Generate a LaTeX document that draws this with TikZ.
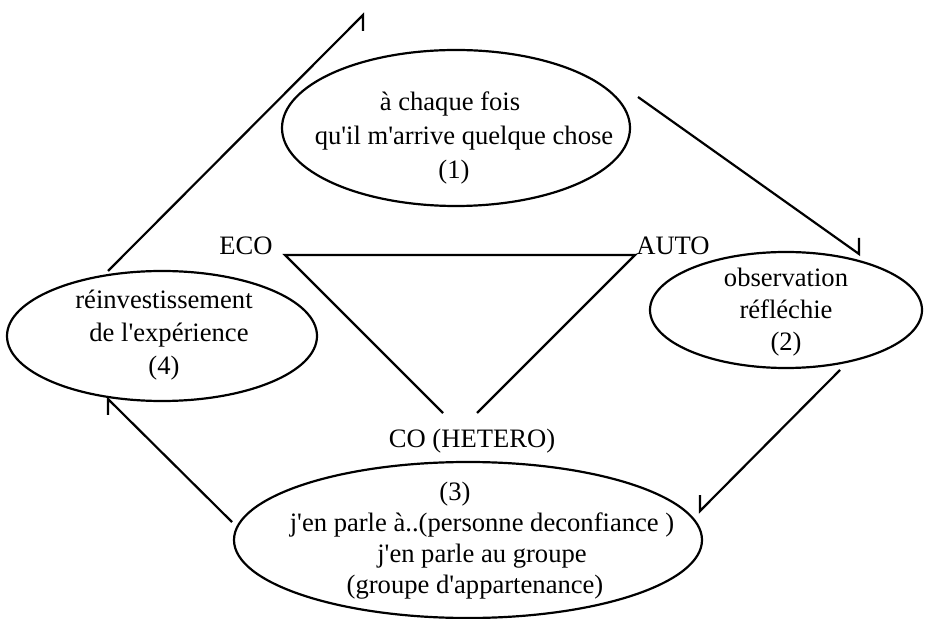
\documentclass[tikz,border=0pt]{standalone}
\usepackage{fontspec}
% plain family without TeX ligature mapping, so ' stays a straight apostrophe
\newfontfamily\docfont{Liberation Serif}
\usetikzlibrary{shapes.geometric}
\begin{document}
\begin{tikzpicture}[x=0.5pt,y=-0.5pt,
  line width=1.1pt, line join=miter,
  bubble/.style={draw, ellipse, inner sep=0pt},
  lbl/.style={font=\docfont\fontsize{13.3}{16.5}\selectfont, align=center, inner sep=0pt},
  flow/.style={line width=1.1pt}]
\useasboundingbox (0,0) rectangle (930,619);

% the four stages of the cycle
\node[bubble, minimum width=174pt, minimum height=78pt] (e1) at (456,128) {};
\node[bubble, minimum width=136pt, minimum height=58pt] (e2) at (786,310) {};
\node[bubble, minimum width=234pt, minimum height=78pt] (e3) at (468,540) {};
\node[bubble, minimum width=155pt, minimum height=65pt] (e4) at (162,336) {};

\node[lbl, font=\docfont\fontsize{13.3}{17}\selectfont] (t1) at (464,138)
  {à chaque fois\hspace*{14pt}\\qu'il m'arrive quelque chose\\(1)\hspace*{10pt}};
\node[lbl, font=\docfont\fontsize{13.3}{16}\selectfont] (t2) at (786,312)
  {observation\\réfléchie\\(2)};
\node[lbl, font=\docfont\fontsize{13.3}{15.5}\selectfont] (t3) at (482,541)
  {(3)\hspace*{27pt}\\j'en parle à..(personne deconfiance )\\j'en parle au groupe\hspace*{19pt}\\(groupe d'appartenance)\hspace*{7pt}};
\node[lbl] (t4) at (164,335)
  {réinvestissement\\\hspace*{5pt}de l'expérience\\(4)};

% triangle ECO / AUTO / CO
\node[lbl] (eco) at (246,246) {ECO};
\node[lbl] (auto) at (673,246) {AUTO};
\node[lbl] (co) at (472,441) {CO (HETERO)};
\coordinate (ve) at (285,255);
\coordinate (va) at (635,255);
\coordinate (bl) at (443,413);
\coordinate (br) at (477,413);
\draw (bl) -- (ve) -- (va) -- (br);

% cycle arrows with half heads
\coordinate (a1s) at (108,271);
\coordinate (a1t) at (363,15);
\coordinate (a1b) at (363,31);
\draw[flow] (a1s) -- (a1t) -- (a1b);

\coordinate (a2s) at (638,97);
\coordinate (a2t) at (859,254);
\coordinate (a2b) at (859,238);
\draw[flow] (a2s) -- (a2t) -- (a2b);

\coordinate (a3s) at (840,370);
\coordinate (a3t) at (700,511);
\coordinate (a3b) at (700,495);
\draw[flow] (a3s) -- (a3t) -- (a3b);

\coordinate (a4s) at (232,522);
\coordinate (a4t) at (108,399);
\coordinate (a4b) at (108,415);
\draw[flow] (a4s) -- (a4t) -- (a4b);
\end{tikzpicture}
\end{document}
